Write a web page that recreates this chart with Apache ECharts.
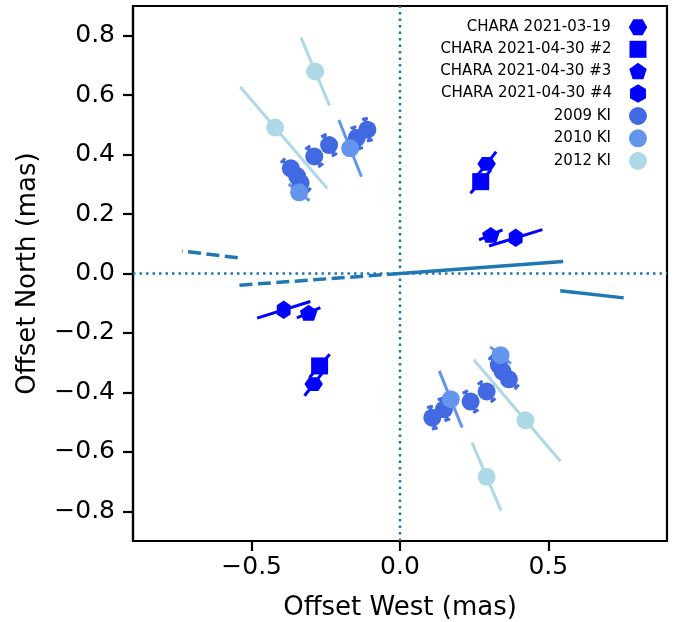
<!DOCTYPE html>
<html><head><meta charset="utf-8">
<script src="https://cdn.jsdelivr.net/npm/echarts@6/dist/echarts.min.js"></script>
<style>html,body{margin:0;padding:0;background:#fff}#c{width:687px;height:622px}</style>
</head><body><div id="c"></div>
<script>
// ---------- data (mas) ----------
const xTicks = [-0.5, 0, 0.5];
const yTicks = [-0.8, -0.6, -0.4, -0.2, 0, 0.2, 0.4, 0.6, 0.8];
const names = ['CHARA 2021-03-19', 'CHARA 2021-04-30 #2', 'CHARA 2021-04-30 #3', 'CHARA 2021-04-30 #4', '2009 KI', '2010 KI', '2012 KI'];

// positions [offset west, offset north]; separation errors [inner, outer]
const chara0319 = [[0.292, 0.369], [-0.291, -0.372]];
const chara0319Err = [[0.052, 0.052], [0.050, 0.050]];
const chara2 = [[0.272, 0.309], [-0.271, -0.311]];
const chara2Err = [[0.052, 0.052], [0.052, 0.052]];
const chara3 = [[0.306, 0.130], [-0.308, -0.132]];
const chara3Err = [[0.043, 0.043], [0.043, 0.043]];
const chara4 = [[0.390, 0.120], [-0.392, -0.122]];
const chara4Err = [[0.094, 0.094], [0.094, 0.094]];

const ki2009 = [[-0.110, 0.484], [-0.146, 0.456], [-0.239, 0.432], [-0.289, 0.394], [-0.368, 0.354], [-0.347, 0.328], [-0.335, 0.305],
                [0.109, -0.485], [0.148, -0.457], [0.238, -0.431], [0.292, -0.397], [0.367, -0.356], [0.346, -0.330], [0.333, -0.308]];
const ki2009Err = [[0.037, 0.037], [0.037, 0.037], [0.037, 0.037], [0.037, 0.037], [0.037, 0.037], [0.037, 0.037], [0.037, 0.037],
                   [0.037, 0.037], [0.037, 0.037], [0.037, 0.037], [0.037, 0.037], [0.037, 0.037], [0.037, 0.037], [0.037, 0.037]];
const ki2010 = [[-0.168, 0.421], [-0.340, 0.273], [0.171, -0.423], [0.339, -0.275]];
const ki2010Err = [[0.103, 0.103], [0.045, 0.045], [0.103, 0.103], [0.045, 0.045]];
const ki2012 = [[-0.286, 0.680], [-0.421, 0.491], [0.292, -0.684], [0.423, -0.494]];
const ki2012Err = [[0.125, 0.124], [0.270, 0.180], [0.125, 0.124], [0.268, 0.181]];

// orientation lines
const lineSolid = [[0, 0], [0.55, 0.04]];
const lineDashed = [[0, 0], [-0.55, -0.04]];
const shortSolid = [[0.54, -0.058], [0.754, -0.082]];
const shortDashed = [[-0.547, 0.053], [-0.735, 0.076]];
const zeroV = [[0, -0.9], [0, 0.9]];
const zeroH = [[-0.9, 0], [0.9, 0]];

// ---------- helpers ----------
const FONT = 'DejaVu Sans';
const fmt = v => (v < 0 ? '\u2212' : '') + Math.abs(v).toFixed(1);
function radialSegs(pts, errs) {
  return pts.map((p, i) => {
    const r = Math.hypot(p[0], p[1]), ux = p[0] / r, uy = p[1] / r;
    return [p[0] - ux * errs[i][0], p[1] - uy * errs[i][0], p[0] + ux * errs[i][1], p[1] + uy * errs[i][1]];
  });
}
function barSeries(pts, errs, color, width, cap) {
  return {
    type: 'custom', silent: true, clip: true,
    encode: { x: [0, 2], y: [1, 3] },
    data: radialSegs(pts, errs),
    renderItem: function (params, api) {
      const a = api.coord([api.value(0), api.value(1)]);
      const b = api.coord([api.value(2), api.value(3)]);
      const ch = [{ type: 'line', shape: { x1: a[0], y1: a[1], x2: b[0], y2: b[1] }, style: { stroke: color, lineWidth: width } }];
      if (cap) {
        const dx = b[0] - a[0], dy = b[1] - a[1], L = Math.hypot(dx, dy);
        const nx = -dy / L * cap, ny = dx / L * cap;
        [a, b].forEach(p => ch.push({ type: 'line', shape: { x1: p[0] - nx, y1: p[1] - ny, x2: p[0] + nx, y2: p[1] + ny }, style: { stroke: color, lineWidth: width } }));
      }
      return { type: 'group', children: ch };
    }
  };
}
function lineSeries(data, color, width, type) {
  return { type: 'line', data: data, showSymbol: false, silent: true, animation: false,
    lineStyle: { color: color, width: width, type: type, cap: 'butt' } };
}
const HEX_FLAT = 'path://M-1,0L-0.5,-0.866L0.5,-0.866L1,0L0.5,0.866L-0.5,0.866Z';
const HEX_POINTY = 'path://M0,-1L0.866,-0.5L0.866,0.5L0,1L-0.866,0.5L-0.866,-0.5Z';
const PENTA = 'path://M0,-1L0.951,-0.309L0.588,0.809L-0.588,0.809L-0.951,-0.309Z';

const markers = [
  { sym: HEX_FLAT, size: [18.5, 16], color: '#0000ff', pts: chara0319 },
  { sym: 'rect', size: [17, 17], color: '#0000ff', pts: chara2 },
  { sym: PENTA, size: [17.5, 16.6], color: '#0000ff', pts: chara3 },
  { sym: HEX_POINTY, size: [16, 18.5], color: '#0000ff', pts: chara4 },
  { sym: 'circle', size: [18, 18], color: '#4169e1', pts: ki2009 },
  { sym: 'circle', size: [18, 18], color: '#6495ed', pts: ki2010 },
  { sym: 'circle', size: [18, 18], color: '#add8e6', pts: ki2012 }
];
function scatter(i) {
  const m = markers[i];
  return { type: 'scatter', name: names[i], data: m.pts, symbol: m.sym, symbolSize: m.size, symbolKeepAspect: true,
    itemStyle: { color: m.color, opacity: 1 }, silent: true };
}

const series = [
  lineSeries(zeroV, '#1f77b4', 2.5, [2.5, 4]),
  lineSeries(zeroH, '#1f77b4', 2.5, [2.5, 4]),
  lineSeries(lineSolid, '#1f77b4', 3.5, 'solid'),
  lineSeries(lineDashed, '#1f77b4', 3.5, [13, 5.5]),
  lineSeries(shortSolid, '#1f77b4', 3.5, 'solid'),
  lineSeries(shortDashed, '#1f77b4', 3.5, [13, 5.5]),
  barSeries(ki2009, ki2009Err, '#4169e1', 3, 3), scatter(4),
  barSeries(ki2010, ki2010Err, '#6495ed', 3, 0), scatter(5),
  barSeries(ki2012, ki2012Err, '#add8e6', 3, 0), scatter(6),
  barSeries(chara2, chara2Err, '#0000ff', 3, 0), scatter(1),
  barSeries(chara0319, chara0319Err, '#0000ff', 3, 0), scatter(0),
  barSeries(chara3, chara3Err, '#0000ff', 3, 0), scatter(2),
  barSeries(chara4, chara4Err, '#0000ff', 3, 0), scatter(3)
];

const rowY = [27.3, 49.3, 71, 93.3, 116, 138.3, 161];
const legends = names.map((n, i) => {
  const m = markers[i];
  return {
    orient: 'vertical', align: 'right', selectedMode: false, padding: 0, itemGap: 0,
    right: 687 - 638 - m.size[0] / 2, top: rowY[i] - 9,
    itemWidth: m.size[0], itemHeight: m.size[1],
    data: [{ name: n, icon: m.sym }],
    textStyle: { fontSize: 15, color: '#000', fontFamily: FONT, padding: [0, 13, 0, 0], lineHeight: 18 }
  };
});

const axisCommon = {
  type: 'value', min: -0.9, max: 0.9, splitLine: { show: false },
  axisLine: { show: true, onZero: false, lineStyle: { color: '#000', width: 2.2 } },
  nameLocation: 'middle',
  nameTextStyle: { fontSize: 26, color: '#000', fontFamily: FONT }
};
const tickStyle = { show: true, length: 10, lineStyle: { color: '#000', width: 2.2 } };
const option = {
  animation: false,
  backgroundColor: '#fff',
  grid: { left: 133, top: 6, width: 534, height: 535, containLabel: false, outerBoundsMode: 'none',
          show: true, borderColor: '#000', borderWidth: 2.2, backgroundColor: 'transparent' },
  xAxis: Object.assign({}, axisCommon, {
    name: 'Offset West (mas)', nameGap: 54,
    axisTick: Object.assign({ customValues: xTicks }, tickStyle),
    axisLabel: { customValues: xTicks, formatter: fmt, fontSize: 25, color: '#000', fontFamily: FONT, margin: 14 }
  }),
  yAxis: Object.assign({}, axisCommon, {
    name: 'Offset North (mas)', nameGap: 92,
    axisTick: Object.assign({ customValues: yTicks }, tickStyle),
    axisLabel: { customValues: yTicks, formatter: fmt, fontSize: 25, color: '#000', fontFamily: FONT, margin: 18 }
  }),
  legend: legends,
  series: series
};
const chart = echarts.init(document.getElementById('c'), null, { renderer: 'canvas' });
chart.setOption(option);
</script>
</body></html>
